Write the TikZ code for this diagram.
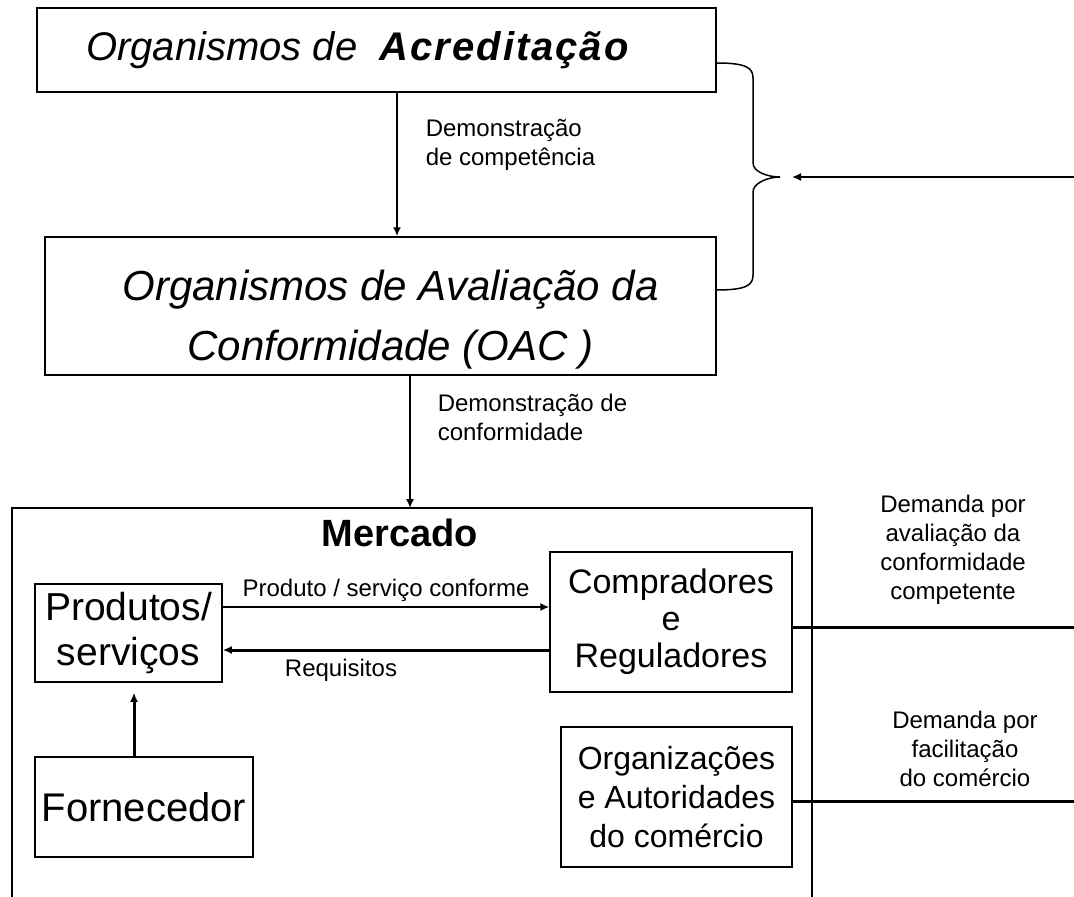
\documentclass[tikz,border=0pt]{standalone}
\usepackage{fontspec}
\setmainfont{Liberation Sans}
\usetikzlibrary{arrows.meta}

\begin{document}
\begin{tikzpicture}[
    x=1pt, y=-1pt,
    line width=1.5pt,
    box/.style={draw, line width=1.5pt, inner sep=0pt, align=center},
    arr/.style={-{Latex[length=9pt,width=8pt]}},
    lbl/.style={font=\fontsize{24}{29}\selectfont, inner sep=0pt}
]
    \useasboundingbox (0,0) rectangle (1074,897);

    % --- Organismos (top) ---
    \node[box, minimum width=679pt, minimum height=84pt,
          font=\fontsize{40}{46}\selectfont\itshape] (acred) at (376.5,50) {};
    \node[font=\fontsize{40}{46}\selectfont\itshape] (acredtxt) at ([xshift=-19pt]acred.center)
          {Organismos de\ \ {\bfseries\addfontfeature{LetterSpace=5}Acreditação}};
    \node[box, minimum width=671pt, minimum height=138pt] (oac) at (380.5,306) {};
    \node[font=\fontsize{42}{60}\selectfont\itshape, align=center] (oactxt)
          at ([yshift=-14pt, xshift=10pt]oac.center) {Organismos de Avaliação da\\Conformidade (OAC )};

    \draw[arr, line width=2.5pt] ([xshift=20.5pt]acred.south) -- ([xshift=16.5pt]oac.north);
    \node[lbl, anchor=west, align=left] (dcomp) at (425,145) {Demonstração\\de competência};

    % --- Mercado ---
    \coordinate (mtop) at (410,508);
    \draw (12,897) -- (12,508) -- (812,508) -- (812,897);
    \node[font=\fontsize{38}{40}\selectfont\bfseries] (merc) at (400,533) {Mercado};

    \draw[arr] ([xshift=29.5pt]oac.south) -- (mtop);
    \node[lbl, anchor=west, align=left] (dconf) at (437,417) {Demonstração de\\conformidade};

    \node[box, minimum width=187pt, minimum height=98pt,
          font=\fontsize{39}{45}\selectfont] (prod) at (128.5,633) {Produtos/\\serviços};
    \node[box, minimum width=218pt, minimum height=100pt,
          font=\fontsize{40}{46}\selectfont] (forn) at (144,807) {Fornecedor};
    \node[box, minimum width=242pt, minimum height=140pt,
          font=\fontsize{34}{37}\selectfont] (comp) at (671,622) {Compradores\\e\\Reguladores};
    \node[box, minimum width=231pt, minimum height=140pt,
          font=\fontsize{32}{39}\selectfont] (org) at (676.5,797) {Organizações\\e Autoridades\\do comércio};

    \draw[arr] ([yshift=26pt]prod.east)
          -- node[lbl, above=5pt] (lprod) {Produto / serviço conforme} ([yshift=15pt]comp.west);
    \draw[arr, line width=3pt] ([yshift=-28pt]comp.west)
          -- node[lbl, below=8pt, xshift=-45pt] (lreq) {Requisitos} ([yshift=-17pt]prod.east);
    \draw[arr, line width=3pt, shorten >=10pt] ([xshift=5.5pt]prod.south |- forn.north) -- ([xshift=5.5pt]prod.south);

    % --- Demandas (right) ---
    \coordinate (dem1) at (1074,627);
    \coordinate (dem2) at (1074,801);
    \draw[line width=3pt] ([yshift=-5pt]comp.east) -- (dem1);
    \draw[line width=3pt] ([yshift=-4pt]org.east) -- (dem2);
    \node[lbl, align=center] (ldem1) at (953,550) {Demanda por\\avaliação da\\conformidade\\competente};
    \node[lbl, align=center] (ldem2) at (965,749) {Demanda por\\facilitação\\do comércio};

    % --- chave de retorno ---
    \coordinate (feed) at (1074,177);
    \coordinate (tip) at (780,177);
    \draw ([yshift=-13pt]acred.east) .. controls +(30,0) and +(0,-10) .. (753,78)
          -- (753,163) .. controls (753,172) and (768,177) .. (tip);
    \draw ([yshift=16pt]oac.east) .. controls +(30,0) and +(0,10) .. (753,275)
          -- (753,192) .. controls (753,183) and (768,177) .. (tip);
    \draw[arr] (feed) -- ([xshift=12pt]tip);

\end{tikzpicture}
\end{document}
